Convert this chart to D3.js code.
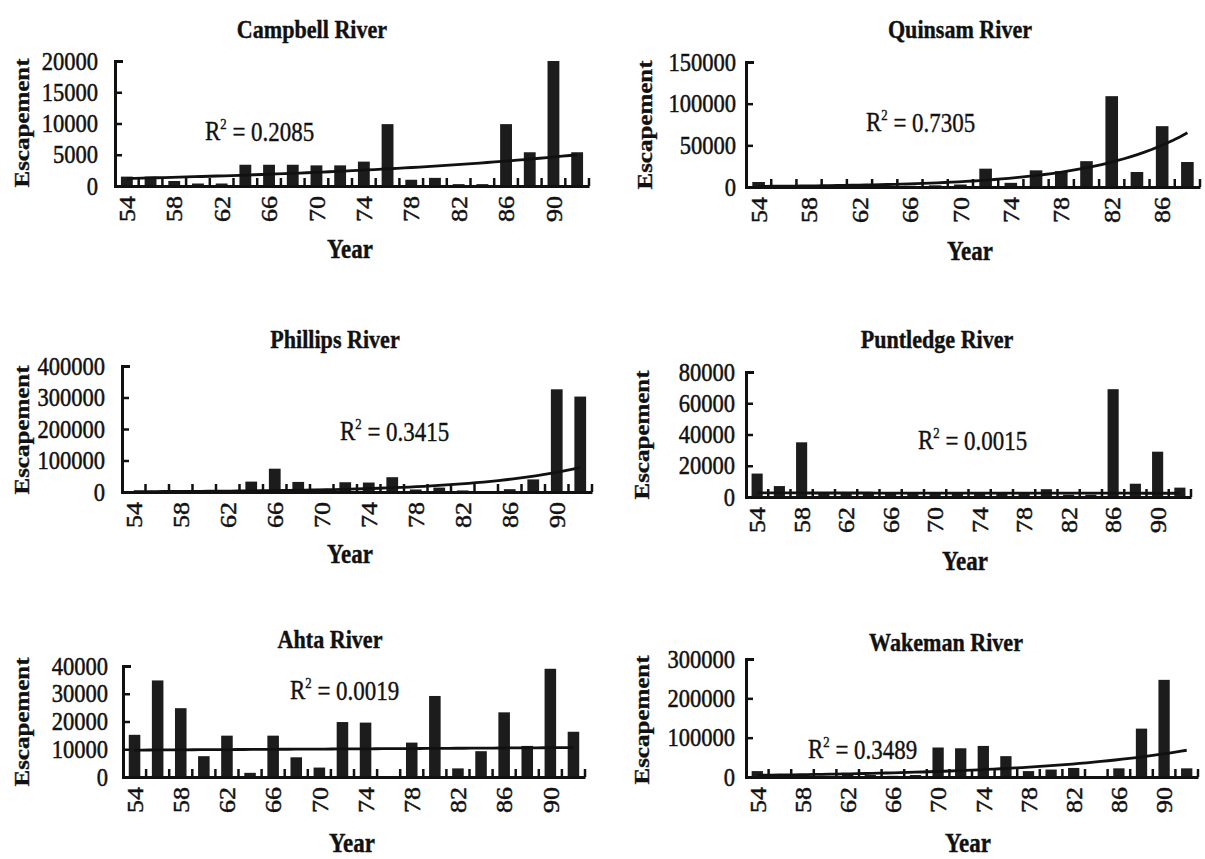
<!DOCTYPE html>
<html>
<head>
<meta charset="utf-8">
<script src="https://cdn.jsdelivr.net/npm/d3@7"></script>
<style>
  body { margin: 0; background: #fff; }
  svg { display: block; }
  text { font-family: "Liberation Serif", "Times New Roman", serif; fill: #111; }
</style>
</head>
<body>
<script>
// even years on the x axis
var years = [54,56,58,60,62,64,66,68,70,72,74,76,78,80,82,84,86,88,90,92];
var quinsamYears = [54,56,58,60,62,64,66,68,70,72,74,76,78,80,82,84,86,88];
var labelYears = [54,58,62,66,70,74,78,82,86,90];
var quinsamLabelYears = [54,58,62,66,70,74,78,82,86];

// escapement per river
var campbell  = [1500,1500,800,400,400,3400,3400,3400,3300,3300,3900,9900,1000,1300,300,300,9900,5400,20000,5400];
var quinsam   = [6000,500,400,600,800,1000,1500,2000,3000,22000,5000,20000,19000,31000,109000,18000,73000,30000];
var phillips  = [2000,1500,1000,1000,1500,33000,74000,32000,10000,31000,30000,47000,8000,14000,5000,3000,9000,40000,326000,303000];
var puntledge = [15000,7000,35000,2500,2500,2500,3000,2000,2000,2000,2000,2000,2000,5000,1500,1500,69000,8500,29000,6000];
var ahta      = [15200,34800,24800,7500,14900,1500,14900,7100,3400,19800,19600,0,12400,29200,3100,9300,23300,11200,39000,16300];
var wakeman   = [15000,3000,3000,3000,8000,5000,3000,5000,75000,73000,79000,53000,15000,19000,23000,1000,22000,123000,247000,22000];

// exponential trend line: value at first and last year
var campbellTrend  = [1200, 5000];
var quinsamTrend   = [800, 65000];
var phillipsTrend  = [1200, 78000];
var puntledgeTrend = [2600, 2400];
var ahtaTrend      = [9700, 10600];
var wakemanTrend   = [4500, 68000];

var yMaxes = [20000, 150000, 400000, 80000, 40000, 300000];
var ySteps = [5000, 50000, 100000, 20000, 10000, 100000];
var r2s = ["0.2085", "0.7305", "0.3415", "0.0015", "0.0019", "0.3489"];
var titles = ["Campbell River", "Quinsam River", "Phillips River", "Puntledge River", "Ahta River", "Wakeman River"];

// layout of each panel
var panels = [
  {values: campbell,  yrs: years,        lbls: labelYears,        trend: campbellTrend,  pad: 17,
   x0: 115, x1: 589,  top: 61,  zero: 186, tx: 312, ty: 38,  rx: 205, ry: 140, ex: 22,  ey: 123, yx: 350, yy: 258},
  {values: quinsam,   yrs: quinsamYears, lbls: quinsamLabelYears, trend: quinsamTrend,   pad: 10,
   x0: 746, x1: 1200, top: 62,  zero: 187, tx: 960, ty: 38,  rx: 866, ry: 131, ex: 645, ey: 125, yx: 970, yy: 260},
  {values: phillips,  yrs: years,        lbls: labelYears,        trend: phillipsTrend,  pad: 17,
   x0: 122, x1: 592,  top: 366, zero: 492, tx: 335, ty: 348, rx: 340, ry: 440, ex: 22,  ey: 430, yx: 350, yy: 563},
  {values: puntledge, yrs: years,        lbls: labelYears,        trend: puntledgeTrend, pad: 11,
   x0: 746, x1: 1191, top: 372, zero: 497, tx: 937, ty: 348, rx: 918, ry: 449, ex: 642, ey: 435, yx: 965, yy: 570},
  {values: ahta,      yrs: years,        lbls: labelYears,        trend: ahtaTrend,      pad: 15,
   x0: 123, x1: 585,  top: 666, zero: 777, tx: 330, ty: 648, rx: 290, ry: 699, ex: 22,  ey: 722, yx: 352, yy: 852},
  {values: wakeman,   yrs: years,        lbls: labelYears,        trend: wakemanTrend,   pad: 11,
   x0: 746, x1: 1198, top: 659, zero: 777, tx: 946, ty: 651, rx: 808, ry: 758, ex: 642, ey: 720, yx: 968, yy: 852}
];

var SX = 0.85;   // the scanned figure is squeezed horizontally
var TSX = 0.9;   // tick labels

var svg = d3.select("body").append("svg").attr("width", 1205).attr("height", 859);

function squeezed(x, y, rot) {
  return "translate(" + x + "," + y + ") scale(" + SX + ",1)" + (rot ? " rotate(" + rot + ")" : "");
}

panels.forEach(function(p, i) {
  var g = svg.append("g");

  var x = d3.scaleBand().domain(p.yrs).range([p.x0, p.x1]).padding(0);
  var y = d3.scaleLinear().domain([0, yMaxes[i]]).range([p.zero, p.top]);
  var bw = x.bandwidth() * 0.5;

  // bars
  g.selectAll(".bar")
    .data(p.values)
    .enter().append("rect")
      .attr("class", "bar")
      .attr("x", function(d, j) { return x(p.yrs[j]) + (x.bandwidth() - bw) / 2; })
      .attr("y", function(d) { return y(d); })
      .attr("width", bw)
      .attr("height", function(d) { return p.zero - y(d); })
      .attr("fill", "#1c1c1c");

  // exponential trend from first to last category centre
  var n = p.yrs.length;
  var c0 = x(p.yrs[0]) + x.bandwidth() / 2, c1 = x(p.yrs[n - 1]) + x.bandwidth() / 2;
  var pts = d3.range(0, 61).map(function(k) {
    var t = k / 60;
    return [c0 + t * (c1 - c0), y(p.trend[0] * Math.pow(p.trend[1] / p.trend[0], t))];
  });
  g.append("path")
    .attr("d", d3.line()(pts))
    .attr("fill", "none")
    .attr("stroke", "#111")
    .attr("stroke-width", 2.8);

  // y axis, ticks pointing inward
  var yAxis = g.append("g")
    .attr("transform", "translate(" + p.x0 + ",0)")
    .call(d3.axisLeft(y)
      .tickValues(d3.range(0, yMaxes[i] + 1, ySteps[i]))
      .tickFormat(d3.format("d"))
      .tickSizeInner(-7)
      .tickSizeOuter(-8)
      .tickPadding(p.pad / TSX));
  yAxis.select(".domain").attr("stroke", "#111").attr("stroke-width", 3);
  yAxis.selectAll(".tick line").attr("stroke", "#111").attr("stroke-width", 2.5);
  yAxis.selectAll("text")
    .attr("font-family", "Liberation Serif, serif")
    .attr("font-size", 25)
    .attr("fill", "#111")
    .attr("stroke", "#111").attr("stroke-width", 0.5)
    .attr("transform", "scale(" + TSX + ",1)");

  // x axis: labels every other year, ticks at category boundaries
  var xAxis = g.append("g")
    .attr("transform", "translate(0," + p.zero + ")")
    .call(d3.axisBottom(x).tickValues(p.lbls).tickSize(0).tickPadding(0));
  xAxis.select(".domain").attr("stroke", "#111").attr("stroke-width", 3);
  xAxis.selectAll("text")
    .attr("font-family", "Liberation Serif, serif")
    .attr("font-size", 26)
    .attr("fill", "#111")
    .attr("stroke", "#111").attr("stroke-width", 0.5)
    .attr("x", 0).attr("y", 0).attr("dy", "0.35em")
    .attr("text-anchor", "end")
    .attr("transform", "translate(0,10) scale(" + TSX + ",1) rotate(-90)");

  var bounds = p.yrs.slice(1).map(function(d) { return x(d); }).concat([p.x1]);
  g.selectAll(".xtick")
    .data(bounds)
    .enter().append("line")
      .attr("class", "xtick")
      .attr("x1", function(d) { return d; }).attr("x2", function(d) { return d; })
      .attr("y1", p.zero).attr("y2", p.zero - 8)
      .attr("stroke", "#111")
      .attr("stroke-width", 2.5);

  // title
  g.append("text")
    .attr("transform", squeezed(p.tx, p.ty))
    .attr("text-anchor", "middle")
    .attr("font-weight", "bold")
    .attr("font-size", 26)
    .attr("stroke", "#111").attr("stroke-width", 0.4)
    .text(titles[i]);

  // axis titles
  g.append("text")
    .attr("transform", squeezed(p.ex, p.ey, -90))
    .attr("text-anchor", "middle")
    .attr("dy", "0.35em")
    .attr("font-weight", "bold")
    .attr("font-size", 25)
    .attr("stroke", "#111").attr("stroke-width", 0.4)
    .text("Escapement");

  g.append("text")
    .attr("transform", squeezed(p.yx, p.yy))
    .attr("text-anchor", "middle")
    .attr("font-weight", "bold")
    .attr("font-size", 27)
    .attr("stroke", "#111").attr("stroke-width", 0.4)
    .text("Year");

  // R squared
  var r = g.append("text")
    .attr("transform", squeezed(p.rx, p.ry))
    .attr("font-size", 27)
    .attr("stroke", "#111").attr("stroke-width", 0.4);
  r.append("tspan").text("R");
  r.append("tspan").attr("font-size", 15).attr("dy", "-0.75em").text("2");
  r.append("tspan").attr("dy", "0.45em").text(" = " + r2s[i]);
});
</script>
</body>
</html>
